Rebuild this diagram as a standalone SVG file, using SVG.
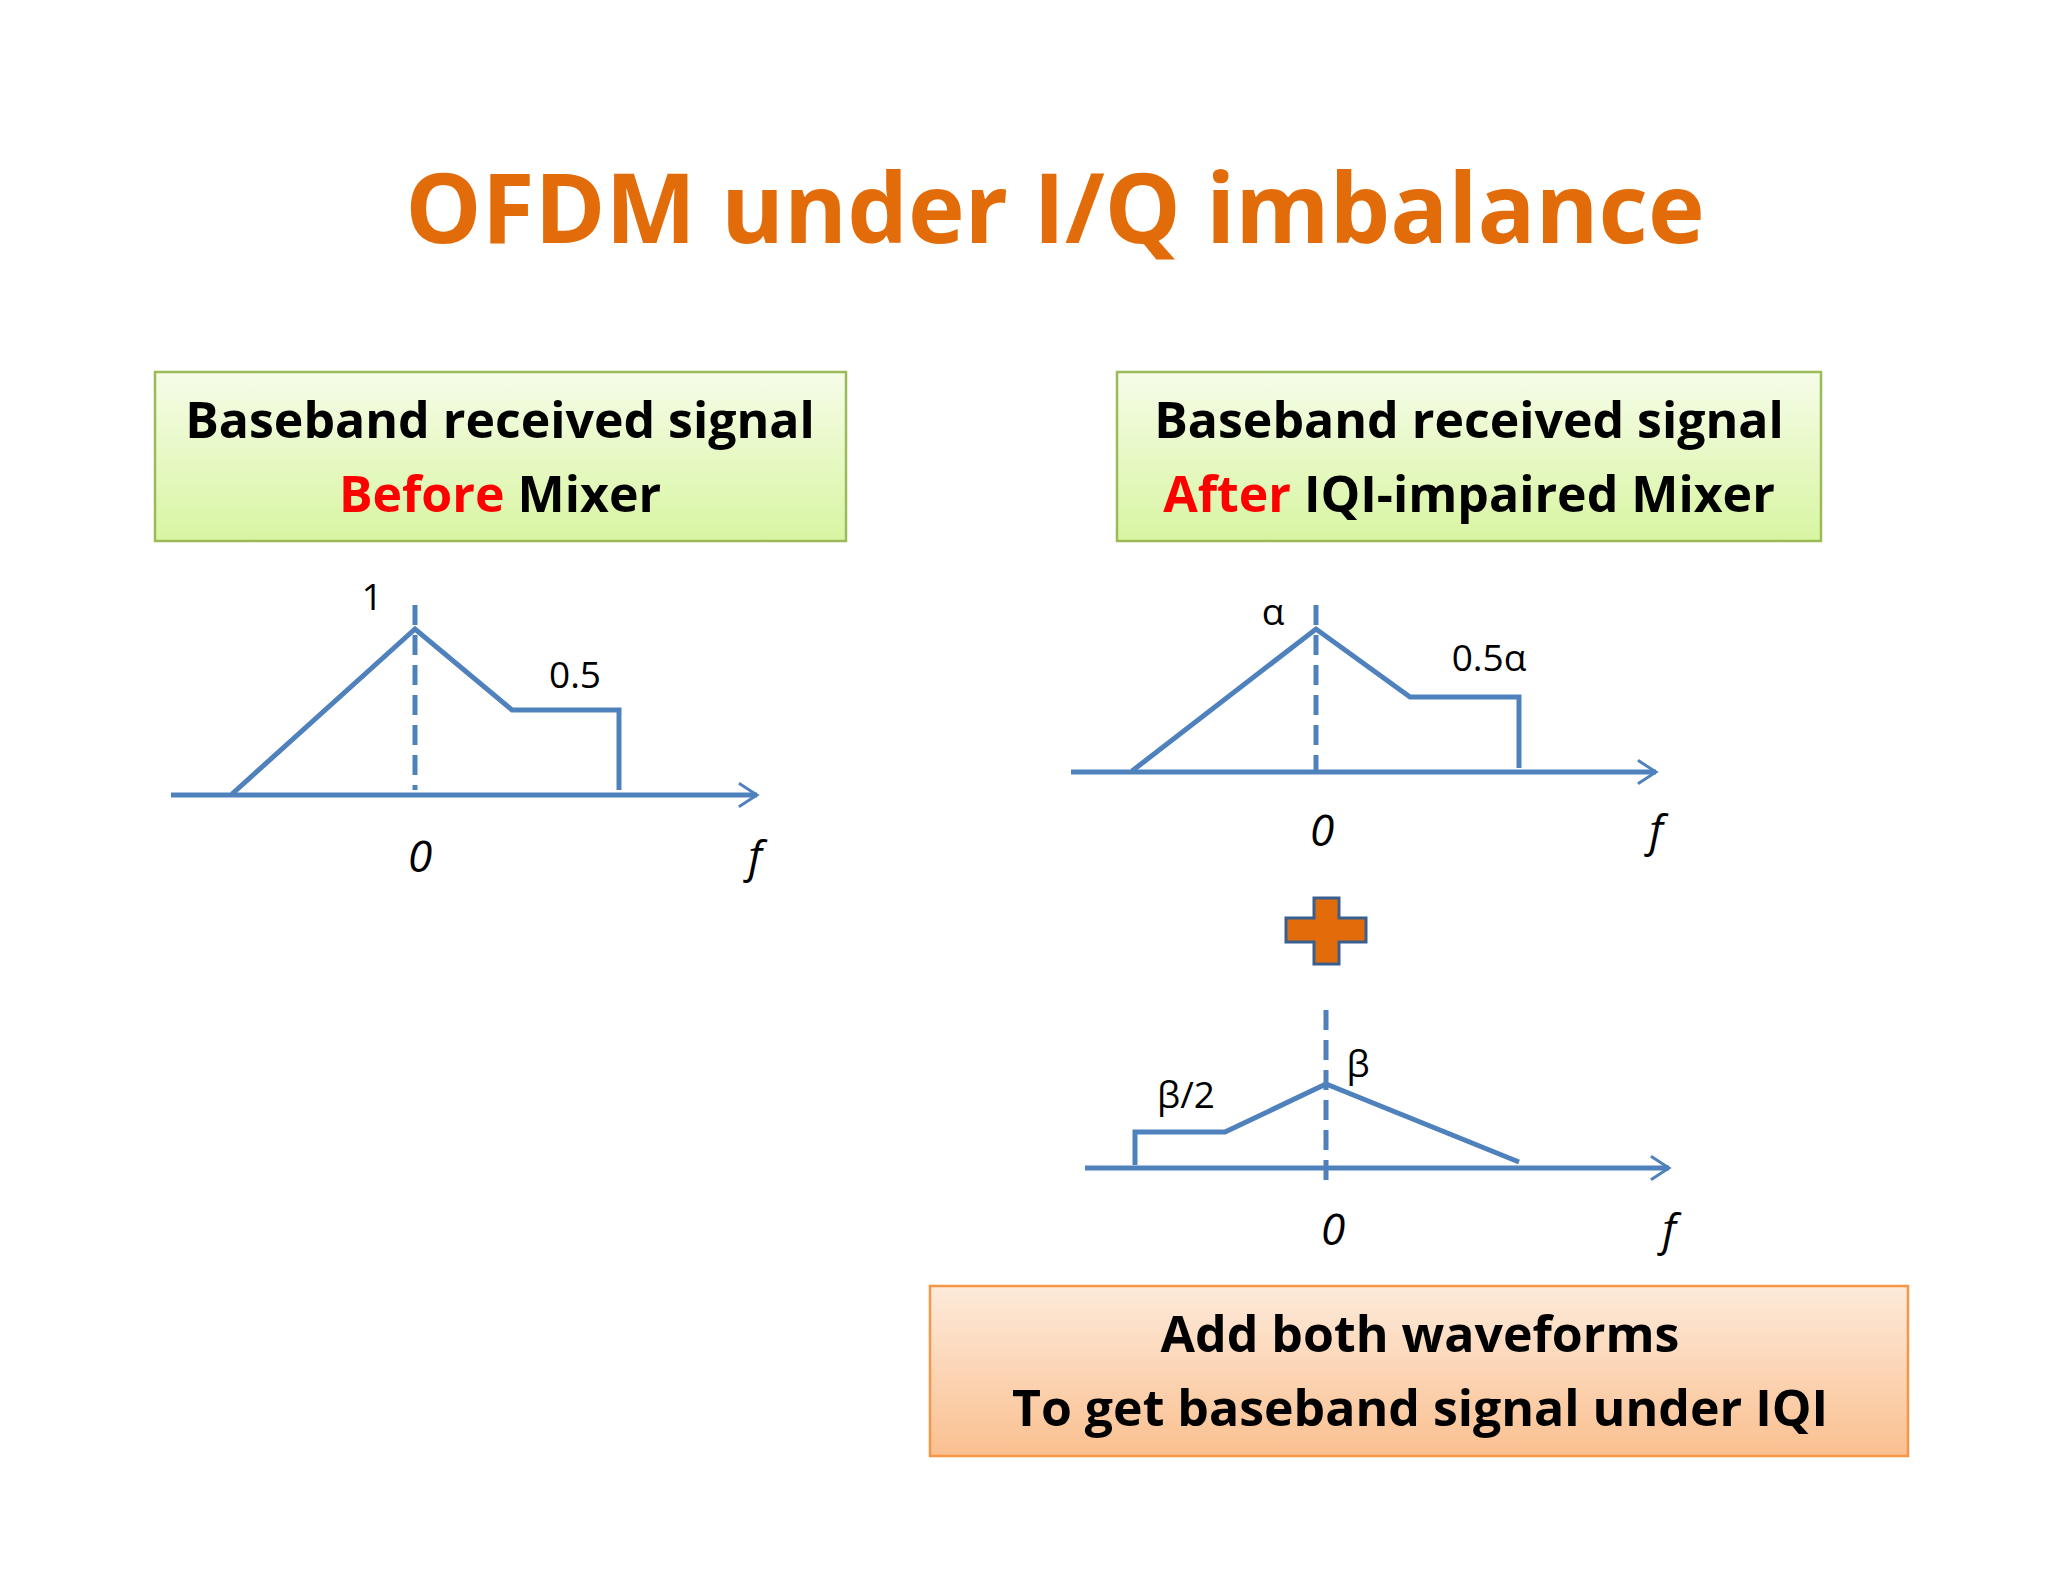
<svg xmlns="http://www.w3.org/2000/svg" width="2048" height="1582" viewBox="0 0 2048 1582">
<defs>
<linearGradient id="gg" x1="0" y1="0" x2="0" y2="1"><stop offset="0" stop-color="#F6FCE8"/><stop offset="1" stop-color="#D8F5A2"/></linearGradient>
<linearGradient id="go" x1="0" y1="0" x2="0" y2="1"><stop offset="0" stop-color="#FDEADA"/><stop offset="1" stop-color="#FAC090"/></linearGradient>
<marker id="ar" viewBox="0 0 12 12" refX="11" refY="6" markerWidth="7" markerHeight="7" markerUnits="userSpaceOnUse" orient="auto" overflow="visible"><path d="M-20,-14 L11,6 L-20,26" fill="none" stroke="#4F81BD" stroke-width="5"/></marker>
<style>
.bt{font-family:"Open Sans","Liberation Sans",sans-serif;font-weight:bold;font-size:50px;text-anchor:middle;fill:#000}
.lb{font-family:"Open Sans","Liberation Sans",sans-serif;font-size:37px;text-anchor:middle;fill:#000}
.it{font-family:"Open Sans","Liberation Sans",sans-serif;font-style:italic;font-size:44px;text-anchor:middle;fill:#000}
.ln{fill:none;stroke:#4F81BD;stroke-width:5}
.ds{stroke:#4F81BD;stroke-width:5;stroke-dasharray:20,10}
</style>
</defs>
<rect width="2048" height="1582" fill="#fff"/>
<text x="1055" y="243" font-family="Open Sans,Liberation Sans,sans-serif" font-weight="bold" font-size="96" text-anchor="middle" fill="#E36C0A">OFDM under I/Q imbalance</text>
<g id="box1"><rect x="155" y="372" width="691" height="169" fill="url(#gg)" stroke="#9BBB59" stroke-width="2.5"/>
<text class="bt" x="500" y="438">Baseband received signal</text>
<text class="bt" x="500" y="512"><tspan fill="#FF0000">Before</tspan> Mixer</text></g>
<g id="box2"><rect x="1117" y="372" width="704" height="169" fill="url(#gg)" stroke="#9BBB59" stroke-width="2.5"/>
<text class="bt" x="1469" y="438">Baseband received signal</text>
<text class="bt" x="1469" y="512"><tspan fill="#FF0000">After</tspan> IQI-impaired Mixer</text></g>
<g id="box3"><rect x="930" y="1286" width="978" height="170" fill="url(#go)" stroke="#F79646" stroke-width="2.5"/>
<text class="bt" x="1420" y="1352">Add both waveforms</text>
<text class="bt" x="1420" y="1426">To get baseband signal under IQI</text></g>
<g id="connectors">
<line class="ln" x1="171" y1="795" x2="757" y2="795" marker-end="url(#ar)"/>
<polyline class="ln" points="232,794 415,629 512,710 619,710 619,790"/>
<line class="ds" x1="415" y1="605" x2="415" y2="790"/>
<line class="ln" x1="1071" y1="772" x2="1656" y2="772" marker-end="url(#ar)"/>
<polyline class="ln" points="1132,771 1316,629 1410,697 1519,697 1519,768"/>
<line class="ds" x1="1316" y1="605" x2="1316" y2="771"/>
<line class="ln" x1="1085" y1="1168" x2="1669" y2="1168" marker-end="url(#ar)"/>
<polyline class="ln" points="1135,1165 1135,1132 1225,1132 1326,1084 1519,1162"/>
<line class="ds" x1="1326" y1="1010" x2="1326" y2="1182"/>
</g>
<g id="labels">
<text class="lb" x="372" y="610">1</text>
<text class="lb" x="575" y="688">0.5</text>
<text class="it" x="420" y="872">0</text>
<text class="it" x="755" y="872">f</text>
<text class="lb" x="1273" y="625">α</text>
<text class="lb" x="1489" y="671">0.5α</text>
<text class="it" x="1322" y="846">0</text>
<text class="it" x="1656" y="846">f</text>
<text class="lb" x="1358" y="1077">β</text>
<text class="lb" x="1186" y="1108">β/2</text>
<text class="it" x="1333" y="1245">0</text>
<text class="it" x="1669" y="1245">f</text>
</g>
<g id="plus"><path d="M1314,898 H1339 V918 H1366 V942 H1339 V964 H1314 V942 H1286 V918 H1314 Z" fill="#E36C0A" stroke="#3A5F8F" stroke-width="3"/></g>
</svg>
